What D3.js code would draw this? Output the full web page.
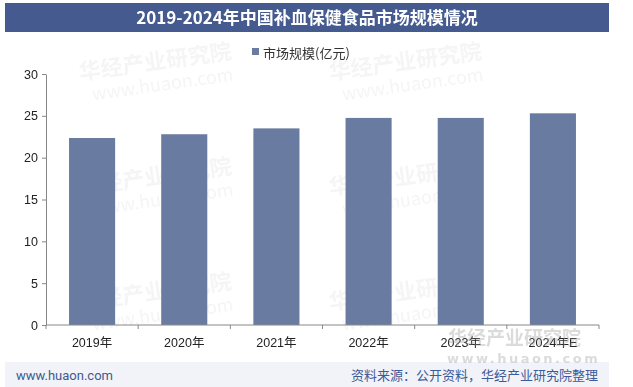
<!DOCTYPE html>
<html><head><meta charset="utf-8">
<script src="https://cdn.jsdelivr.net/npm/d3@7"></script>
<style>body{margin:0;background:#fff}svg{display:block}</style>
</head><body><svg id="c" width="633" height="387"></svg>
<script>
const categories = ["2019年","2020年","2021年","2022年","2023年","2024年E"];
const values = [22.35, 22.8, 23.5, 24.75, 24.75, 25.3];
const yTicks = [0,5,10,15,20,25,30];
const title = "2019-2024年中国补血保健食品市场规模情况";
const seriesName = "市场规模(亿元)";

const svg = d3.select("#c");
const W = 633, H = 387;
svg.append("rect").attr("width",W).attr("height",H).attr("fill","#fff");

// faint watermarks
const wm = svg.append("g").attr("opacity",0.06).attr("font-family","Noto Sans CJK SC").attr("fill","#555");
[[80,80],[80,195],[80,310],[330,80],[330,195],[330,310]].forEach(([x,y])=>{
  wm.append("text").attr("x",x).attr("y",y).attr("font-size",22).attr("font-weight","bold").text("华经产业研究院").attr("transform",`rotate(-8,${x},${y})`);
  wm.append("text").attr("x",x+10).attr("y",y+22).attr("font-size",18).text("www.huaon.com").attr("transform",`rotate(-8,${x},${y})`);
});

// title bar
svg.append("rect").attr("x",5).attr("y",3).attr("width",604).attr("height",29).attr("fill","#455b8f");
svg.append("text").attr("x",307).attr("y",24).attr("text-anchor","middle")
  .attr("font-family","Noto Sans CJK SC").attr("font-weight","bold").attr("font-size",17).attr("fill","#fff").text(title);

// legend
svg.append("rect").attr("x",252).attr("y",48).attr("width",7).attr("height",7).attr("fill","#697ba1");
svg.append("text").attr("x",263).attr("y",58).attr("font-family","Noto Sans CJK SC").attr("font-size",13).attr("fill","#333").text(seriesName);

const x = d3.scaleBand().domain(categories).range([46,599]).paddingInner(0.5).paddingOuter(0.25);
const y = d3.scaleLinear().domain([0,30]).range([325,74]);

svg.append("g").selectAll("rect").data(values).join("rect")
  .attr("x",(d,i)=>x(categories[i])).attr("width",x.bandwidth())
  .attr("y",d=>y(d)).attr("height",d=>y(0)-y(d)).attr("fill","#697ba1");

const yAxis = svg.append("g").attr("transform","translate(46,0)")
  .call(d3.axisLeft(y).tickValues(yTicks).tickSize(4).tickSizeOuter(0));
const xs = d3.scaleLinear().domain([0,6]).range([46,599]);
const xAxis = svg.append("g").attr("transform","translate(0,325)");
xAxis.append("line").attr("x1",46).attr("x2",599).attr("stroke","#888");
xAxis.selectAll("line.t").data(d3.range(7)).join("line").attr("class","t")
  .attr("x1",d=>xs(d)).attr("x2",d=>xs(d)).attr("y1",0).attr("y2",4).attr("stroke","#888");
xAxis.selectAll("text").data(categories).join("text")
  .attr("x",d=>x(d)+x.bandwidth()/2).attr("y",22).attr("text-anchor","middle")
  .attr("font-family","Liberation Sans, Noto Sans CJK SC").attr("font-size",12.5).attr("fill","#222").text(d=>d);
yAxis.select(".domain").attr("stroke","#888");
yAxis.selectAll(".tick line").attr("stroke","#888");
yAxis.selectAll(".tick text").attr("font-family","Liberation Sans").attr("font-size",12.5).attr("fill","#222").attr("x",-8);

// footer
svg.append("rect").attr("x",5).attr("y",362).attr("width",604).attr("height",25).attr("fill","#f1f3f8");
svg.append("text").attr("x",16).attr("y",380).attr("font-family","Roboto, Liberation Sans").attr("font-size",13).attr("fill","#3e5a8e").text("www.huaon.com");
svg.append("text").attr("x",598).attr("y",380).attr("text-anchor","end").attr("font-family","Noto Sans CJK SC").attr("font-size",13).attr("fill","#3d5a99").text("资料来源：公开资料，华经产业研究院整理");

// bottom-right watermark
const br = svg.append("g").attr("opacity",0.35);
br.append("text").attr("x",448).attr("y",345).attr("font-family","Noto Sans CJK SC").attr("font-weight","bold").attr("font-size",19).attr("fill","#999").text("华经产业研究院");
br.append("text").attr("x",447).attr("y",363).attr("font-family","DejaVu Sans").attr("font-weight","bold").attr("font-size",13).attr("letter-spacing",2.5).attr("fill","#999").text("www.huaon.com");
</script></body></html>
